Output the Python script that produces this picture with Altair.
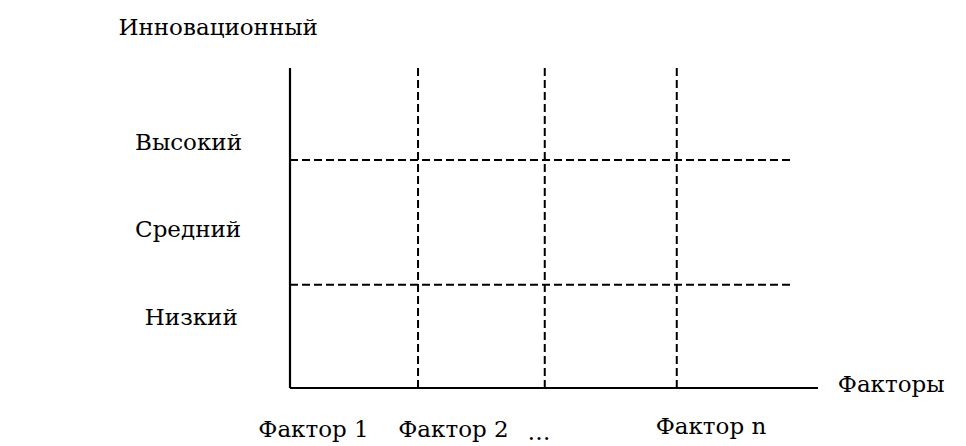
import altair as alt
import pandas as pd

# Grid positions (chart units: x 0..4 along the factor axis, y 0..4 along the potential axis)
vline_x = [0.97, 1.93, 2.93]          # dashed separators between factors
hline_y = [1.29, 2.85]                # dashed separators between levels
hline_end = 3.79
axis_x_end = 4.0
axis_y_end = 4.0

level_labels = ["Низкий", "Средний", "Высокий"]
level_x = [-1.10, -1.174, -1.174]
level_y = [0.875, 1.98, 3.06]

factor_labels = ["Фактор 1", "Фактор 2", "…", "Фактор n"]
factor_x = [-0.24, 0.82, 1.80, 2.77]
factor_y = [-0.525, -0.525, -0.56, -0.49]

title_labels = ["Инновационный", "Факторы"]
title_x = [-1.30, 4.15]
title_y = [4.50, 0.04]

FONT = "DejaVu Serif"
FS = 23

xs = alt.Scale(domain=[0, 4])
ys = alt.Scale(domain=[0, 4])

solid = pd.DataFrame({
    "x": [0, 0], "x2": [0, axis_x_end],
    "y": [0, 0], "y2": [axis_y_end, 0],
})
dashed = pd.DataFrame({
    "x": vline_x + [0] * len(hline_y),
    "x2": vline_x + [hline_end] * len(hline_y),
    "y": [0] * len(vline_x) + hline_y,
    "y2": [axis_y_end] * len(vline_x) + hline_y,
})
texts = pd.DataFrame({
    "label": level_labels + factor_labels + title_labels,
    "x": level_x + factor_x + title_x,
    "y": level_y + factor_y + title_y,
})

enc = dict(
    x=alt.X("x:Q", scale=xs, axis=None),
    y=alt.Y("y:Q", scale=ys, axis=None),
)

solid_layer = alt.Chart(solid).mark_rule(color="black", strokeWidth=2.2).encode(
    x2="x2:Q", y2="y2:Q", **enc
)
dashed_layer = alt.Chart(dashed).mark_rule(
    color="black", strokeWidth=2, strokeDash=[8, 4]
).encode(x2="x2:Q", y2="y2:Q", **enc)
text_layer = alt.Chart(texts).mark_text(
    align="left", baseline="middle", font=FONT, fontSize=FS, color="black"
).encode(text="label:N", **enc)

chart = alt.layer(dashed_layer, solid_layer, text_layer).properties(
    width=528,
    height=320,
    autosize="none",
    padding={"left": 282, "top": 60, "right": 140, "bottom": 80},
).configure(background="white").configure_view(stroke=None, strokeWidth=0)

chart.save("out.html", embed_options={"renderer": "svg", "actions": False})
